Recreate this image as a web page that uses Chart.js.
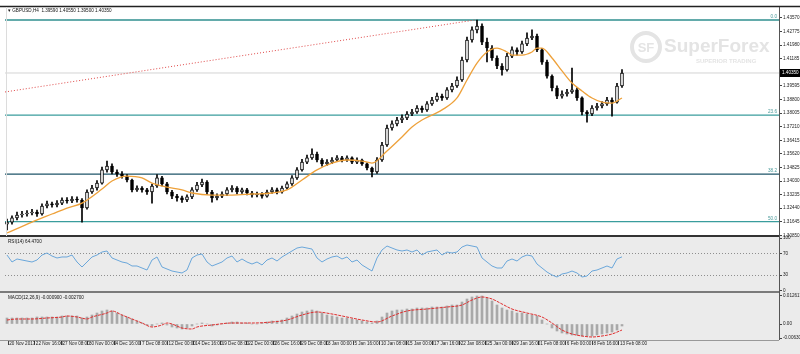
<!DOCTYPE html>
<html>
<head>
<meta charset="utf-8">
<script src="https://cdn.jsdelivr.net/npm/chart.js@4.4.1/dist/chart.umd.min.js"></script>
<style>
  html, body { margin: 0; padding: 0; background: #fff; }
</style>
</head>
<body>
<canvas id="chart" width="800" height="354"></canvas>
<script>
// ---- data (GBPUSD H4) ----
const xLabels = ["20 Nov 2017", "22 Nov 16:00", "27 Nov 08:00", "30 Nov 00:00", "4 Dec 16:00", "7 Dec 08:00",
  "12 Dec 00:00", "14 Dec 16:00", "19 Dec 08:00", "22 Dec 00:00", "26 Dec 16:00", "29 Dec 08:00",
  "3 Jan 00:00", "5 Jan 16:00", "10 Jan 08:00", "15 Jan 00:00", "17 Jan 16:00", "22 Jan 08:00",
  "25 Jan 00:00", "29 Jan 16:00", "1 Feb 08:00", "6 Feb 00:00", "8 Feb 16:00", "13 Feb 08:00"];

const opens = [1.3150,1.3163,1.3187,1.3204,1.3210,1.3216,1.3222,1.3210,1.3257,1.3269,
  1.3263,1.3274,1.3292,1.3286,1.3298,1.3292,1.3245,1.3339,1.3362,1.3391,
  1.3468,1.3491,1.3456,1.3444,1.3432,1.3409,1.3351,1.3362,1.3351,1.3339,
  1.3374,1.3421,1.3386,1.3339,1.3315,1.3304,1.3292,1.3310,1.3351,1.3380,
  1.3397,1.3339,1.3304,1.3315,1.3327,1.3351,1.3362,1.3339,1.3351,1.3333,
  1.3321,1.3327,1.3315,1.3339,1.3351,1.3339,1.3362,1.3386,1.3421,1.3468,
  1.3514,1.3538,1.3561,1.3526,1.3503,1.3514,1.3526,1.3538,1.3526,1.3538,
  1.3514,1.3526,1.3503,1.3479,1.3456,1.3526,1.3614,1.3713,1.3737,1.3760,
  1.3772,1.3795,1.3807,1.3830,1.3819,1.3854,1.3877,1.3900,1.3889,1.3936,
  1.3959,1.3994,1.4111,1.4228,1.4287,1.4310,1.4216,1.4181,1.4123,1.4076,
  1.4053,1.4134,1.4170,1.4158,1.4205,1.4240,1.4251,1.4170,1.4099,1.4017,
  1.3947,1.3900,1.3912,1.3924,1.3936,1.3889,1.3807,1.3795,1.3830,1.3842,
  1.3854,1.3877,1.3865,1.3959];
const highs = [1.3180,1.3199,1.3222,1.3225,1.3230,1.3238,1.3233,1.3270,1.3285,1.3280,
  1.3288,1.3305,1.3306,1.3312,1.3310,1.3300,1.3352,1.3378,1.3405,1.3485,
  1.3520,1.3503,1.3468,1.3458,1.3440,1.3415,1.3375,1.3370,1.3360,1.3385,
  1.3440,1.3430,1.3395,1.3348,1.3325,1.3315,1.3322,1.3365,1.3395,1.3415,
  1.3405,1.3348,1.3328,1.3340,1.3365,1.3376,1.3370,1.3362,1.3360,1.3342,
  1.3338,1.3336,1.3350,1.3365,1.3362,1.3374,1.3398,1.3435,1.3482,1.3530,
  1.3555,1.3592,1.3572,1.3535,1.3528,1.3540,1.3552,1.3548,1.3550,1.3545,
  1.3538,1.3532,1.3510,1.3485,1.3540,1.3630,1.3730,1.3755,1.3776,1.3790,
  1.3810,1.3822,1.3845,1.3842,1.3868,1.3892,1.3918,1.3912,1.3950,1.3975,
  1.4012,1.4128,1.4245,1.4305,1.4345,1.4322,1.4240,1.4195,1.4135,1.4090,
  1.4150,1.4188,1.4182,1.4222,1.4270,1.4287,1.4262,1.4180,1.4110,1.4025,
  1.3960,1.3930,1.3940,1.4064,1.3948,1.3895,1.3815,1.3845,1.3858,1.3868,
  1.3892,1.3890,1.3975,1.4055];
const lows = [1.3117,1.3150,1.3175,1.3192,1.3198,1.3205,1.3196,1.3203,1.3246,1.3250,
  1.3252,1.3265,1.3274,1.3277,1.3280,1.3163,1.3238,1.3330,1.3350,1.3385,
  1.3455,1.3445,1.3430,1.3420,1.3398,1.3340,1.3342,1.3338,1.3325,1.3274,
  1.3365,1.3375,1.3328,1.3300,1.3285,1.3278,1.3282,1.3300,1.3342,1.3370,
  1.3325,1.3280,1.3292,1.3305,1.3318,1.3340,1.3328,1.3330,1.3322,1.3308,
  1.3310,1.3302,1.3308,1.3330,1.3328,1.3332,1.3355,1.3378,1.3412,1.3460,
  1.3505,1.3530,1.3515,1.3490,1.3495,1.3505,1.3518,1.3515,1.3518,1.3505,
  1.3505,1.3494,1.3468,1.3427,1.3448,1.3518,1.3605,1.3700,1.3725,1.3745,
  1.3762,1.3785,1.3798,1.3805,1.3810,1.3845,1.3868,1.3875,1.3880,1.3925,
  1.3950,1.3985,1.4100,1.4215,1.4270,1.4200,1.4100,1.4108,1.4060,1.4023,
  1.4045,1.4125,1.4140,1.4150,1.4195,1.4230,1.4160,1.4085,1.4005,1.3930,
  1.3885,1.3888,1.3900,1.3915,1.3875,1.3790,1.3748,1.3785,1.3818,1.3830,
  1.3845,1.3783,1.3858,1.3950];
const closes = [1.3163,1.3187,1.3204,1.3210,1.3216,1.3222,1.3210,1.3257,1.3269,1.3263,
  1.3274,1.3292,1.3286,1.3298,1.3292,1.3245,1.3339,1.3362,1.3391,1.3468,
  1.3491,1.3456,1.3444,1.3432,1.3409,1.3351,1.3362,1.3351,1.3339,1.3374,
  1.3421,1.3386,1.3339,1.3315,1.3304,1.3292,1.3310,1.3351,1.3380,1.3397,
  1.3339,1.3304,1.3315,1.3327,1.3351,1.3362,1.3339,1.3351,1.3333,1.3321,
  1.3327,1.3315,1.3339,1.3351,1.3339,1.3362,1.3386,1.3421,1.3468,1.3514,
  1.3538,1.3561,1.3526,1.3503,1.3514,1.3526,1.3538,1.3526,1.3538,1.3514,
  1.3526,1.3503,1.3479,1.3456,1.3526,1.3614,1.3713,1.3737,1.3760,1.3772,
  1.3795,1.3807,1.3830,1.3819,1.3854,1.3877,1.3900,1.3889,1.3936,1.3959,
  1.3994,1.4111,1.4228,1.4287,1.4310,1.4216,1.4181,1.4123,1.4076,1.4053,
  1.4134,1.4170,1.4158,1.4205,1.4240,1.4251,1.4170,1.4099,1.4017,1.3947,
  1.3900,1.3912,1.3924,1.3936,1.3889,1.3807,1.3795,1.3830,1.3842,1.3854,
  1.3877,1.3865,1.3959,1.4035];

// moving average, read at some bars
const maIdx = [0,5,9,12,15,19,21,24,27,29,32,35,37,41,45,49,53,56,59,62,65,68,71,73,76,79,81,83,
  87,90,92,94,96,98,100,101,103,105,106,107,109,111,113,115,117,119,121,123];
const maVal = [1.3099,1.3163,1.3210,1.3245,1.3274,1.3356,1.3403,1.3432,1.3421,1.3391,1.3368,1.3351,
  1.3333,1.3321,1.3321,1.3327,1.3333,1.3351,1.3409,1.3468,1.3508,1.3526,1.3520,1.3508,1.3579,1.3661,
  1.3719,1.3760,1.3819,1.3889,1.3994,1.4093,1.4158,1.4181,1.4158,1.4140,1.4140,1.4158,1.4181,1.4181,
  1.4123,1.4047,1.3976,1.3930,1.3889,1.3865,1.3859,1.3889];

// fibonacci retracement and trend line
const fibHigh = 1.4345;
const fibLow = 1.1986;
const fibLevels = [0.0, 23.6, 38.2, 50.0];
const trendIdx = [-0.4, 93.6];
const trendVal = [1.3924, 1.4345];

const priceTicks = [1.43570,1.42775,1.41980,1.41185,1.40390,1.39595,1.38800,1.38005,1.37210,
  1.36415,1.35620,1.34825,1.34030,1.33235,1.32440,1.31645,1.30850];

// RSI(14)
const rsi = [67.9,54.7,60.4,58.5,56.6,54.7,58.5,67.9,71.7,66.0,
  62.3,64.2,64.2,67.9,54.7,45.3,54.7,64.2,67.9,73.6,
  75.5,62.3,58.5,54.7,52.8,47.2,47.2,43.4,39.6,58.5,
  64.2,45.3,41.5,37.7,35.8,34.0,39.6,62.3,67.9,69.8,
  54.7,47.2,50.9,54.7,62.3,66.0,54.7,60.4,54.7,50.9,
  54.7,49.1,58.5,62.3,56.6,64.2,69.8,75.5,81.1,83.0,
  81.1,79.2,62.3,54.7,60.4,64.2,66.0,60.4,64.2,54.7,
  58.5,49.1,43.4,37.7,62.3,77.4,84.9,81.1,77.4,75.5,
  77.4,73.6,77.4,67.9,73.6,75.5,77.4,67.9,73.6,71.7,
  73.6,83.0,86.8,84.9,83.0,62.3,54.7,47.2,43.4,43.4,
  56.6,60.4,56.6,64.2,67.9,66.0,50.9,43.4,35.8,30.2,
  26.4,32.1,34.0,37.7,34.0,26.4,28.3,37.7,39.6,43.4,
  47.2,43.4,60.4,64.47];
const rsiTicks = [100, 70, 30, 0];

// MACD(12,26,9)
const macd = [0.00270,0.00270,0.00270,0.00270,0.00270,0.00270,0.00315,0.00315,0.00315,0.00315,
  0.00315,0.00360,0.00360,0.00360,0.00360,0.00270,0.00315,0.00405,0.00495,0.00585,
  0.00630,0.00585,0.00495,0.00405,0.00315,0.00225,0.00135,0.00045,-0.00045,-0.00090,
  0.00000,0.00045,-0.00045,-0.00135,-0.00180,-0.00225,-0.00180,-0.00090,0.00000,0.00045,
  0.00000,-0.00090,-0.00045,0.00000,0.00045,0.00090,0.00090,0.00045,0.00045,0.00000,
  0.00000,0.00045,0.00090,0.00135,0.00135,0.00180,0.00270,0.00360,0.00450,0.00540,
  0.00585,0.00630,0.00585,0.00495,0.00405,0.00360,0.00315,0.00270,0.00270,0.00225,
  0.00180,0.00135,0.00090,0.00045,0.00135,0.00315,0.00495,0.00585,0.00630,0.00630,
  0.00675,0.00675,0.00720,0.00720,0.00720,0.00765,0.00765,0.00765,0.00810,0.00855,
  0.00855,0.00990,0.01125,0.01215,0.01260,0.01260,0.01170,0.01035,0.00855,0.00720,
  0.00630,0.00585,0.00495,0.00495,0.00450,0.00405,0.00360,0.00180,0.00000,-0.00180,
  -0.00315,-0.00405,-0.00450,-0.00495,-0.00495,-0.00540,-0.00540,-0.00540,-0.00495,-0.00450,
  -0.00405,-0.00360,-0.00270,-0.00090];
const signalIdx = [0,2,5,8,11,12,14,16,17,20,21,23,25,27,29,31,32,33,35,37,38,41,45,49,53,56,59,
  62,65,68,71,74,77,80,84,88,91,93,95,97,99,101,104,107,109,111,113,115,117,119,121,123];
const signalVal = [0.00180,0.00225,0.00225,0.00270,0.00315,0.00360,0.00315,0.00225,0.00315,0.00495,
  0.00585,0.00405,0.00225,0.00045,-0.00135,-0.00045,0.00045,0.00000,-0.00180,-0.00225,-0.00135,
  -0.00045,0.00045,0.00045,0.00090,0.00180,0.00405,0.00540,0.00450,0.00315,0.00180,0.00090,0.00360,
  0.00585,0.00675,0.00765,0.00855,0.01080,0.01215,0.01125,0.00900,0.00675,0.00495,0.00315,0.00045,
  -0.00270,-0.00450,-0.00540,-0.00585,-0.00540,-0.00450,-0.00270];
const macdTicks = [0.012617, 0, -0.0063];

// ---- build datasets ----
const last = closes.length - 1;
const xMin = -0.4, xMax = 154.4;
const FONT = '"Liberation Sans", Arial, sans-serif';
const SMALL = { size: 4.6, family: FONT };

const wickData = closes.map((c, i) => ({ x: i, y: [lows[i], highs[i]] }));
const bodyData = closes.map((c, i) => ({ x: i, y: [opens[i], c] }));
const bodyFill = closes.map((c, i) => c >= opens[i] ? '#ffffff' : '#000000');
const fibColors = ['#2f8f8f', '#3a9d9d', '#1e5468', '#3a9d9d'];

const fibSets = fibLevels.map((lv, k) => {
    const v = fibHigh - (fibHigh - fibLow) * lv / 100;
    return {
        type: 'line', yAxisID: 'y', order: 10,
        data: [{ x: xMin, y: v }, { x: xMax, y: v }],
        borderColor: fibColors[k], borderWidth: 1.3, pointRadius: 0
    };
});

const datasets = [
    ...fibSets,
    {
        type: 'line', yAxisID: 'y', order: 9,
        data: trendIdx.map((x, k) => ({ x, y: trendVal[k] })),
        borderColor: '#e04848', borderWidth: 1, borderDash: [1, 2], pointRadius: 0
    },
    {
        type: 'line', yAxisID: 'y', order: 9,
        data: [{ x: xMin, y: closes[last] }, { x: xMax, y: closes[last] }],
        borderColor: '#d4d4d4', borderWidth: 1, pointRadius: 0
    },
    {
        type: 'bar', yAxisID: 'y', order: 5, grouped: false,
        data: wickData, backgroundColor: '#000', barThickness: 1
    },
    {
        type: 'bar', yAxisID: 'y', order: 4, grouped: false,
        data: bodyData, backgroundColor: bodyFill, borderColor: '#000',
        borderWidth: 1, borderSkipped: false, barThickness: 3
    },
    {
        type: 'line', yAxisID: 'y', order: 3,
        data: maIdx.map((x, k) => ({ x, y: maVal[k] })),
        borderColor: '#eea13a', borderWidth: 1.3, pointRadius: 0,
        cubicInterpolationMode: 'monotone'
    },
    {
        type: 'line', yAxisID: 'yRsi', order: 3,
        data: rsi.map((v, i) => ({ x: i, y: v })),
        borderColor: '#5c9fd8', borderWidth: 0.9, pointRadius: 0
    },
    {
        type: 'bar', yAxisID: 'yMacd', order: 5, grouped: false,
        data: macd.map((v, i) => ({ x: i, y: v })),
        backgroundColor: '#a9a9a9', barThickness: 2
    },
    {
        type: 'line', yAxisID: 'yMacd', order: 3,
        data: signalIdx.map((x, k) => ({ x, y: signalVal[k] })),
        borderColor: '#e03030', borderWidth: 1, borderDash: [3, 1], pointRadius: 0,
        cubicInterpolationMode: 'monotone'
    }
];

// ---- plugins ----
const backdrop = {
    id: 'backdrop',
    beforeDraw(chart) {
        const { ctx } = chart;
        const r = chart.scales.yRsi;
        ctx.save();
        ctx.fillStyle = '#ffffff';
        ctx.fillRect(0, 0, chart.width, chart.height);
        ctx.fillStyle = '#ebebeb';
        ctx.fillRect(0, r.top, chart.width, chart.height - r.top);
        ctx.restore();
    },
    beforeDatasetsDraw(chart) {
        // SuperForex watermark
        const { ctx } = chart;
        ctx.save();
        ctx.strokeStyle = '#e4e4e4';
        ctx.fillStyle = '#e4e4e4';
        ctx.lineWidth = 4;
        ctx.beginPath();
        ctx.arc(646, 47, 14, 0, Math.PI * 2);
        ctx.stroke();
        ctx.textBaseline = 'middle';
        ctx.textAlign = 'center';
        ctx.font = 'bold 13px ' + FONT;
        ctx.fillText('SF', 646, 48);
        ctx.textAlign = 'left';
        ctx.font = 'bold 19px ' + FONT;
        ctx.fillText('SuperForex', 664, 47);
        ctx.font = 'bold 6px ' + FONT;
        ctx.fillText('SUPERIOR TRADING', 696, 61);
        ctx.restore();
    }
};

const overlay = {
    id: 'overlay',
    afterDraw(chart) {
        const { ctx, chartArea } = chart;
        const y = chart.scales.y, r = chart.scales.yRsi, m = chart.scales.yMacd;
        const right = chartArea.right;
        ctx.save();
        // frame lines
        ctx.strokeStyle = '#222';
        ctx.lineWidth = 1.5;
        ctx.beginPath(); ctx.moveTo(0, 6.5); ctx.lineTo(chart.width, 6.5); ctx.stroke();
        ctx.lineWidth = 2;
        ctx.strokeStyle = '#333';
        ctx.beginPath(); ctx.moveTo(0, y.bottom); ctx.lineTo(right, y.bottom); ctx.stroke();
        ctx.lineWidth = 1.5;
        ctx.strokeStyle = '#555';
        ctx.beginPath(); ctx.moveTo(0, r.bottom); ctx.lineTo(right, r.bottom); ctx.stroke();
        ctx.lineWidth = 1;
        ctx.strokeStyle = '#999';
        ctx.beginPath(); ctx.moveTo(0, m.bottom + 0.5); ctx.lineTo(right, m.bottom + 0.5); ctx.stroke();
        ctx.strokeStyle = '#555';
        ctx.beginPath(); ctx.moveTo(right + 0.5, 7); ctx.lineTo(right + 0.5, m.bottom); ctx.stroke();
        ctx.strokeStyle = '#dcdcdc';
        ctx.beginPath(); ctx.moveTo(chartArea.left + 1.5, 7); ctx.lineTo(chartArea.left + 1.5, y.bottom); ctx.stroke();

        // panel titles
        ctx.fillStyle = '#111';
        ctx.font = '4.6px ' + FONT;
        ctx.textBaseline = 'middle';
        ctx.textAlign = 'left';
        const t = [opens[last], highs[last], lows[last], closes[last]].map(v => v.toFixed(5)).join(' ');
        ctx.fillText('\u25BE GBPUSD,H4  ' + t, 8, 11);
        ctx.fillText('RSI(14) ' + rsi[last].toFixed(4), 8, r.top + 6);
        ctx.fillText('MACD(12,26,9) ' + macd[last].toFixed(6) + ' ' + signalVal[signalVal.length - 1].toFixed(6), 8, m.top + 6);

        // fibo level captions
        ctx.fillStyle = '#4a9a9a';
        ctx.textAlign = 'right';
        ctx.textBaseline = 'bottom';
        fibLevels.forEach(lv => {
            const v = fibHigh - (fibHigh - fibLow) * lv / 100;
            ctx.fillText(lv.toFixed(1), right - 2, y.getPixelForValue(v) - 1);
        });

        // current price box
        const py = y.getPixelForValue(closes[last]);
        ctx.fillStyle = '#000';
        ctx.fillRect(right + 1, py - 4, chart.width - right - 1, 8);
        ctx.fillStyle = '#fff';
        ctx.textAlign = 'left';
        ctx.textBaseline = 'middle';
        ctx.fillText(closes[last].toFixed(5), right + 3, py);
        ctx.restore();
    }
};

function noPad(s) { s.paddingTop = 0; s.paddingBottom = 0; s.paddingLeft = 0; s.paddingRight = 0; }

const yCommon = {
    type: 'linear', position: 'right', stack: 'panes',
    afterFit(s) { s.width = 21; noPad(s); }
};

new Chart(document.getElementById('chart'), {
    type: 'bar',
    data: { datasets },
    options: {
        responsive: false,
        animation: false,
        events: [],
        layout: { padding: { left: 5, top: 7, right: 0, bottom: 0 } },
        plugins: { legend: { display: false }, tooltip: { enabled: false } },
        scales: {
            x: {
                type: 'linear', min: xMin, max: xMax, offset: false,
                afterBuildTicks(s) { s.ticks = xLabels.map((_, k) => ({ value: 0.2 + k * 5.31 })); },
                afterFit(s) { s.height = 14; noPad(s); },
                border: { display: false },
                grid: { drawOnChartArea: false, offset: false, tickLength: 5, color: '#444' },
                ticks: {
                    autoSkip: false, maxRotation: 0, align: 'start', padding: -4,
                    color: '#222', font: SMALL,
                    callback: (v, i) => ' ' + xLabels[i]
                }
            },
            y: {
                ...yCommon, stackWeight: 229,
                min: 1.30814, max: 1.44211,
                afterBuildTicks(s) { s.ticks = priceTicks.map(v => ({ value: v })); },
                border: { display: false },
                grid: { drawOnChartArea: false, tickLength: 3, color: '#444' },
                ticks: { autoSkip: false, padding: 1, color: '#222', font: SMALL, callback: v => v.toFixed(5) }
            },
            yRsi: {
                ...yCommon, stackWeight: 56,
                min: -1.9, max: 103.8,
                afterBuildTicks(s) { s.ticks = rsiTicks.map(v => ({ value: v })); },
                border: { display: false, dash: [1, 2] },
                grid: {
                    tickLength: 3, tickColor: '#444',
                    color: c => (c.tick && (c.tick.value === 70 || c.tick.value === 30)) ? '#8e8e8e' : 'rgba(0,0,0,0)'
                },
                ticks: { autoSkip: false, padding: 1, color: '#222', font: SMALL, callback: v => String(v) }
            },
            yMacd: {
                ...yCommon, stackWeight: 48,
                min: -0.0072, max: 0.0144,
                afterBuildTicks(s) { s.ticks = macdTicks.map(v => ({ value: v })); },
                border: { display: false },
                grid: { drawOnChartArea: false, tickLength: 3, color: '#444' },
                ticks: { autoSkip: false, padding: 1, color: '#222', font: SMALL,
                    callback: v => v === 0 ? '0.00' : v.toFixed(6) }
            }
        }
    },
    plugins: [backdrop, overlay]
});
</script>
</body>
</html>
